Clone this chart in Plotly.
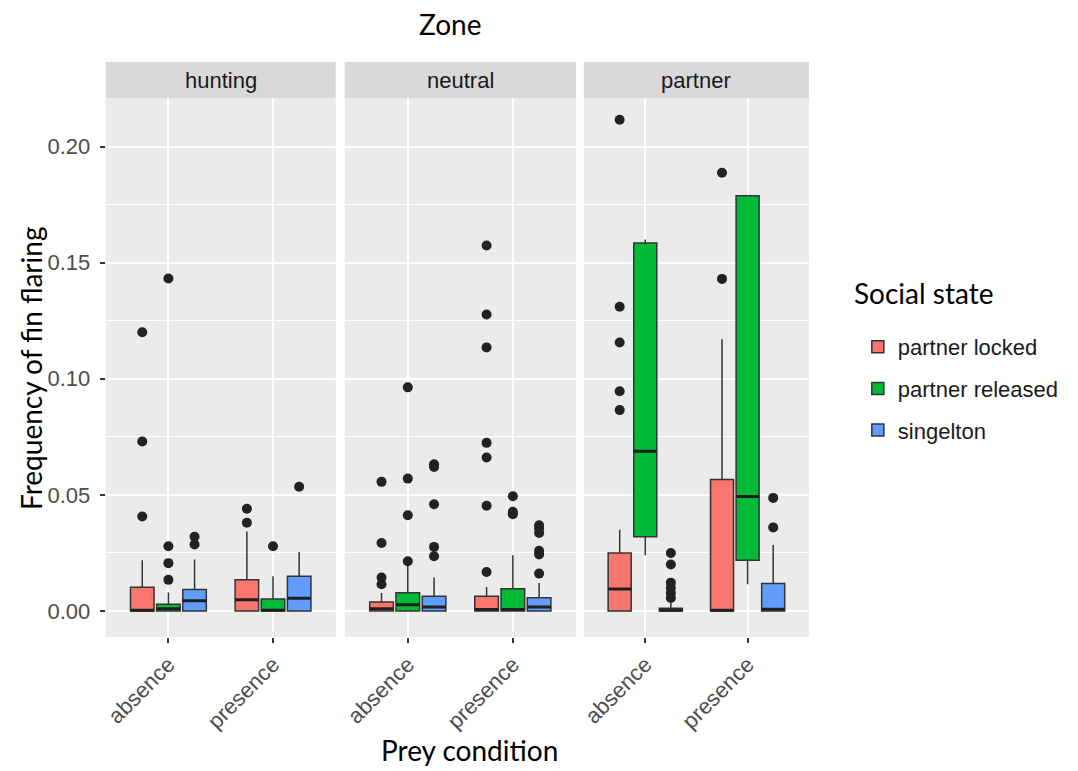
import plotly.graph_objects as go

zones = ["hunting", "neutral", "partner"]
conditions = ["absence", "presence"]
states = ["partner locked", "partner released", "singelton"]
colors = ["#F8766D", "#00BA38", "#619CFF"]

# value order: hunting-absence, hunting-presence, neutral-absence, neutral-presence, partner-absence, partner-presence
locked_q1 = [0.0, 0.0, 0.0, 0.0, 0.0, 0.0]
locked_med = [0.0003, 0.0048, 0.001, 0.0006, 0.0095, 0.0003]
locked_q3 = [0.0102, 0.0134, 0.0039, 0.0063, 0.025, 0.0566]
locked_lo = [0.0, 0.0, 0.0, 0.0, 0.0, 0.0]
locked_hi = [0.0218, 0.0342, 0.0078, 0.0103, 0.035, 0.117]
locked_out = [[0.0407, 0.073, 0.12], [0.038, 0.044], [0.0115, 0.0144, 0.0293, 0.0556],
              [0.0168, 0.0453, 0.0661, 0.0724, 0.1135, 0.1277, 0.1574],
              [0.0865, 0.0946, 0.1156, 0.131, 0.2115], [0.143, 0.1887]]

released_q1 = [0.0, 0.0, 0.0, 0.0, 0.032, 0.0218]
released_med = [0.001, 0.0003, 0.0027, 0.0006, 0.0688, 0.0493]
released_q3 = [0.0029, 0.0052, 0.0079, 0.0096, 0.1585, 0.1788]
released_lo = [0.0, 0.0, 0.0, 0.0, 0.024, 0.0115]
released_hi = [0.008, 0.015, 0.0205, 0.024, 0.16, 0.1788]
released_out = [[0.0134, 0.0206, 0.0279, 0.1432], [0.0279], [0.0214, 0.0412, 0.057, 0.0963],
                [0.0417, 0.0427, 0.0494], [], []]

single_q1 = [0.0, 0.0, 0.0, 0.0, 0.0, 0.0]
single_med = [0.0044, 0.0055, 0.0017, 0.0017, 0.0003, 0.0008]
single_q3 = [0.0093, 0.015, 0.0063, 0.0057, 0.0012, 0.0118]
single_lo = [0.0, 0.0, 0.0, 0.0, 0.0, 0.0]
single_hi = [0.0222, 0.0254, 0.0144, 0.0121, 0.0034, 0.0284]
single_out = [[0.0286, 0.032], [0.0535], [0.0236, 0.0276, 0.046, 0.062, 0.0632],
              [0.0161, 0.0243, 0.0259, 0.0336, 0.0355, 0.0369],
              [0.0056, 0.0077, 0.010, 0.0122, 0.020, 0.025], [0.036, 0.0487]]

y_ticks = [0.00, 0.05, 0.10, 0.15, 0.20]
y_ticklabels = ["0.00", "0.05", "0.10", "0.15", "0.20"]

stats = [
    (locked_q1, locked_med, locked_q3, locked_lo, locked_hi, locked_out),
    (released_q1, released_med, released_q3, released_lo, released_hi, released_out),
    (single_q1, single_med, single_q3, single_lo, single_hi, single_out),
]

# page body has an 8px margin; lay out in page pixels and compensate
OFF = 8
W, H = 1078 - OFF, 771 - OFF


def px(x):
    return (x - OFF) / W


def py(y):
    return (H - (y - OFF)) / H


panel_px = [(102, 333), (342, 574), (582, 808)]
plot_top, plot_bot = 98, 637
strip_top = 62

dodge = 0.25
bw = 0.225
sans = "Liberation Sans, Arial, sans-serif"
tick_font = dict(family=sans, size=22, color="#4D4D4D")
title_font = dict(family="Lato, Open Sans, sans-serif", size=28, color="#000000")

fig = go.Figure()

for zi, zone in enumerate(zones):
    xa = "x" if zi == 0 else f"x{zi + 1}"
    ya = "y" if zi == 0 else f"y{zi + 1}"
    for si, state in enumerate(states):
        q1, med, q3, lo, hi, out = stats[si]
        idx = [zi * 2 + ci for ci in range(len(conditions))]
        xpos = [ci + 1 + (si - 1) * dodge for ci in range(len(conditions))]
        fig.add_trace(go.Box(
            x=xpos,
            q1=[q1[i] for i in idx], median=[med[i] for i in idx], q3=[q3[i] for i in idx],
            lowerfence=[lo[i] for i in idx], upperfence=[hi[i] for i in idx],
            width=bw, whiskerwidth=0,
            fillcolor=colors[si], line=dict(color="#333333", width=1.5),
            name=state, legendgroup=state, showlegend=(zi == 0),
            boxpoints=False, hoverinfo="skip",
            xaxis=xa, yaxis=ya,
        ))
        # thicker median lines (ggplot fatten)
        mx, my = [], []
        for k, i in enumerate(idx):
            mx += [xpos[k] - bw / 2, xpos[k] + bw / 2, None]
            my += [med[i], med[i], None]
        fig.add_trace(go.Scatter(
            x=mx, y=my, mode="lines", line=dict(color="#1F1F1F", width=3),
            showlegend=False, hoverinfo="skip", xaxis=xa, yaxis=ya,
        ))
        # outliers
        ox, oy = [], []
        for k, i in enumerate(idx):
            for v in out[i]:
                ox.append(xpos[k])
                oy.append(v)
        fig.add_trace(go.Scatter(
            x=ox, y=oy, mode="markers",
            marker=dict(color="#222222", size=10, line=dict(width=0)),
            showlegend=False, hoverinfo="skip", xaxis=xa, yaxis=ya,
        ))

yrange = [-0.0112, 0.2209]
ydom = [py(plot_bot), py(plot_top)]
layout = dict(
    width=W, height=H,
    margin=dict(l=0, r=0, t=0, b=0),
    paper_bgcolor="white",
    plot_bgcolor="#EBEBEB",
    showlegend=True,
    legend=dict(
        x=px(857), y=py(326), xanchor="left", yanchor="top",
        font=dict(family=sans, size=22, color="#1A1A1A"),
        tracegroupgap=10, bgcolor="rgba(0,0,0,0)",
    ),
)
for zi in range(len(zones)):
    xkey = "xaxis" if zi == 0 else f"xaxis{zi + 1}"
    ykey = "yaxis" if zi == 0 else f"yaxis{zi + 1}"
    x0, x1 = panel_px[zi]
    layout[xkey] = dict(
        domain=[px(x0), px(x1)], range=[0.4, 2.6], anchor="y" if zi == 0 else f"y{zi + 1}",
        tickmode="array", tickvals=[1, 2], ticktext=conditions, tickangle=-45,
        ticks="outside", ticklen=5, tickwidth=1.5, tickcolor="#333333",
        tickfont=tick_font, showgrid=True, gridcolor="white", gridwidth=2,
        zeroline=False, showline=False, fixedrange=True,
    )
    layout[ykey] = dict(
        domain=ydom, range=yrange, anchor="x" if zi == 0 else f"x{zi + 1}",
        tickmode="array", tickvals=y_ticks, ticktext=y_ticklabels,
        showticklabels=(zi == 0), ticks="outside" if zi == 0 else "",
        ticklen=5, tickwidth=1.5, tickcolor="#333333", tickfont=tick_font,
        ticklabelstandoff=5,
        showgrid=True, gridcolor="white", gridwidth=2, zeroline=False, showline=False,
        minor=dict(tickmode="array", tickvals=[0.025, 0.075, 0.125, 0.175],
                   showgrid=True, gridcolor="white", gridwidth=1, ticks=""),
        fixedrange=True,
    )
fig.update_layout(**layout)

shapes = []
annotations = []
for zi, zone in enumerate(zones):
    x0, x1 = panel_px[zi]
    shapes.append(dict(type="rect", xref="paper", yref="paper",
                       x0=px(x0), x1=px(x1), y0=py(plot_top), y1=py(strip_top),
                       fillcolor="#D9D9D9", line=dict(width=0), layer="below"))
    annotations.append(dict(text=zone, xref="paper", yref="paper",
                            x=px((x0 + x1) / 2), y=py((strip_top + plot_top) / 2),
                            showarrow=False, xanchor="center", yanchor="middle",
                            font=dict(family=sans, size=22, color="#1A1A1A")))
annotations.append(dict(text="Zone", xref="paper", yref="paper", x=px(448), y=py(24),
                        showarrow=False, xanchor="center", yanchor="middle", font=title_font))
annotations.append(dict(text="Prey condition", xref="paper", yref="paper", x=px(467), y=py(750),
                        showarrow=False, xanchor="center", yanchor="middle", font=title_font))
annotations.append(dict(text="Frequency of fin flaring", xref="paper", yref="paper", x=px(27),
                        y=py(368), textangle=-90,
                        showarrow=False, xanchor="center", yanchor="middle", font=title_font))
annotations.append(dict(text="Social state", xref="paper", yref="paper", x=px(851), y=py(293),
                        showarrow=False, xanchor="left", yanchor="middle", font=title_font))
fig.update_layout(shapes=shapes, annotations=annotations)

fig.write_html("out.html")
